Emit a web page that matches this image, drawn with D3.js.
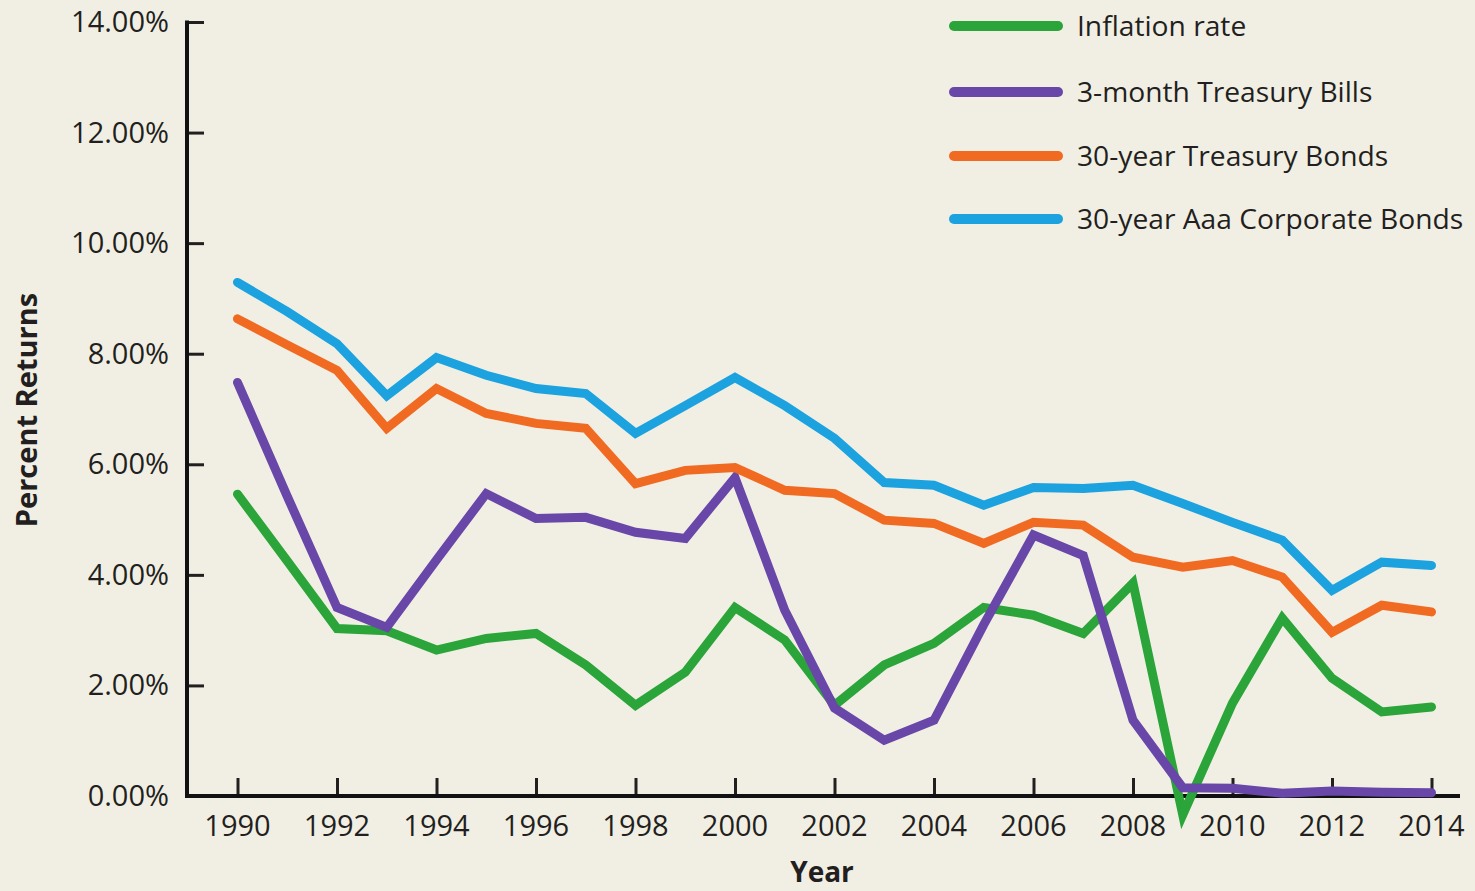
<!DOCTYPE html>
<html>
<head>
<meta charset="utf-8">
<script src="https://cdn.jsdelivr.net/npm/d3@7"></script>
<style>
  html, body { margin: 0; padding: 0; background: #f1efe4; }
  svg { display: block; }
  text { font-family: "Open Sans", sans-serif; fill: #231f20; }
</style>
</head>
<body>
<div id="chart"></div>
<script>
const years = d3.range(1990, 2015);
const yTicks = [0, 2, 4, 6, 8, 10, 12, 14];
const xTicks = d3.range(1990, 2015, 2);

const inflation = [5.46, 4.25, 3.03, 2.99, 2.64, 2.85, 2.94, 2.37, 1.64, 2.24, 3.41, 2.82, 1.64, 2.37, 2.76,
  3.41, 3.27, 2.94, 3.85, -0.34, 1.68, 3.22, 2.13, 1.52, 1.61];
const tBills = [7.48, 5.42, 3.41, 3.05, 4.27, 5.47, 5.02, 5.04, 4.77, 4.66, 5.76, 3.36, 1.59, 1.01, 1.37,
  3.1, 4.72, 4.35, 1.37, 0.15, 0.14, 0.05, 0.09, 0.07, 0.06];
const tBonds = [8.63, 8.16, 7.7, 6.65, 7.37, 6.92, 6.74, 6.65, 5.65, 5.89, 5.94, 5.53, 5.47, 4.99, 4.93,
  4.57, 4.95, 4.9, 4.32, 4.14, 4.26, 3.96, 2.96, 3.45, 3.33];
const corpBonds = [9.29, 8.76, 8.18, 7.24, 7.93, 7.61, 7.37, 7.28, 6.56, 7.06, 7.57, 7.06, 6.47, 5.67, 5.62,
  5.26, 5.58, 5.56, 5.62, 5.29, 4.95, 4.63, 3.72, 4.23, 4.17];

const seriesNames = ['Inflation rate', '3-month Treasury Bills', '30-year Treasury Bonds', '30-year Aaa Corporate Bonds'];
const seriesColors = ['#2ba43a', '#6847a8', '#f16a22', '#1ca2df'];
const seriesValues = [inflation, tBills, tBonds, corpBonds];

const width = 1475, height = 891;
const svg = d3.select('#chart').append('svg').attr('width', width).attr('height', height);

const x = d3.scaleLinear().domain([1990, 2014]).range([237.5, 1431.5]);
const y = d3.scaleLinear().domain([0, 14]).range([796, 22]);

// y axis
const yAxis = svg.append('g').attr('transform', 'translate(187,0)')
  .call(d3.axisRight(y).tickValues(yTicks).tickSize(17).tickFormat(''));
yAxis.select('.domain').remove();
yAxis.selectAll('.tick line').attr('stroke', '#231f20').attr('stroke-width', 3);
yAxis.append('line').attr('x1', 0).attr('x2', 0).attr('y1', y(14) - 1.5).attr('y2', y(0) + 1.5)
  .attr('stroke', '#111').attr('stroke-width', 4);
svg.append('g').selectAll('text').data(yTicks).join('text')
  .attr('x', 169).attr('y', d => y(d) + 10)
  .attr('text-anchor', 'end').attr('font-size', 29)
  .text(d => d.toFixed(2) + '%');

// x axis
const xAxis = svg.append('g').attr('transform', `translate(0,${y(0)})`)
  .call(d3.axisTop(x).tickValues(xTicks).tickSize(18).tickFormat(''));
xAxis.select('.domain').remove();
xAxis.selectAll('.tick line').attr('stroke', '#231f20').attr('stroke-width', 3);
xAxis.append('line').attr('x1', 185).attr('x2', 1460).attr('y1', 0).attr('y2', 0)
  .attr('stroke', '#111').attr('stroke-width', 4);
svg.append('g').selectAll('text').data(xTicks).join('text')
  .attr('x', d => x(d)).attr('y', 836)
  .attr('text-anchor', 'middle').attr('font-size', 29)
  .text(d => d);

// axis titles
svg.append('text').attr('x', 822).attr('y', 882).attr('text-anchor', 'middle')
  .attr('font-size', 28).attr('font-weight', 'bold').text('Year');
svg.append('text').attr('transform', 'translate(37,410) rotate(-90)').attr('text-anchor', 'middle')
  .attr('font-size', 29).attr('font-weight', 'bold').text('Percent Returns');

// lines
const line = d3.line().x((d, i) => x(years[i])).y(d => y(d));
svg.append('g').selectAll('path').data(seriesValues).join('path')
  .attr('d', line)
  .attr('fill', 'none')
  .attr('stroke', (d, i) => seriesColors[i])
  .attr('stroke-width', 9)
  .attr('stroke-linejoin', 'miter')
  .attr('stroke-linecap', 'round');

// legend
const legendY = [26, 92, 156, 219];
const legend = svg.append('g').selectAll('g').data(seriesNames).join('g')
  .attr('transform', (d, i) => `translate(0,${legendY[i]})`);
legend.append('line').attr('x1', 954).attr('x2', 1058)
  .attr('stroke', (d, i) => seriesColors[i]).attr('stroke-width', 10).attr('stroke-linecap', 'round');
legend.append('text').attr('x', 1077).attr('y', 10).attr('font-size', 28.2).text(d => d);
</script>
</body>
</html>
